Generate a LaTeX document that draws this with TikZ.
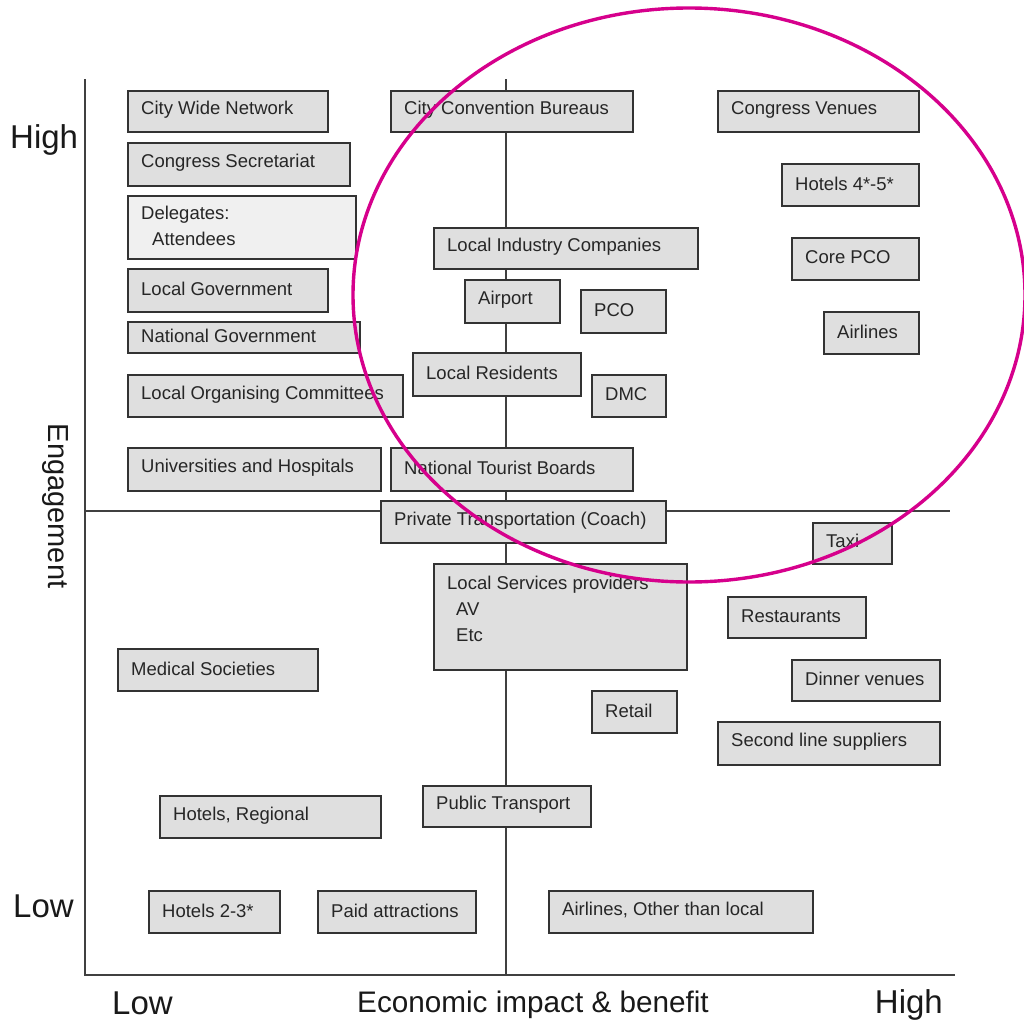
\documentclass[tikz,border=0pt]{standalone}
\usepackage{fontspec}
\setmainfont{Liberation Sans}
\definecolor{boxfill}{HTML}{DFDFDF}
\definecolor{boxline}{HTML}{333333}
\definecolor{axisline}{HTML}{404040}
\definecolor{magen}{HTML}{D6008C}
\tikzset{
  box/.style={draw=boxline, line width=1.8pt, fill=boxfill, rectangle, inner sep=0pt, anchor=north west},
  boxtext/.style={inner sep=0pt, align=left, anchor=west, font=\fontsize{18.5}{26}\selectfont, text=black!85},
  axisln/.style={draw=axisline, line width=1.4pt},
  biglab/.style={font=\fontsize{33}{36}\selectfont, text=black!90, inner sep=0pt},
}
\newcommand\bx[8][]{%
  \pgfmathsetmacro\bw{#5-#3}\pgfmathsetmacro\bh{#6-#4}%
  \node[box, minimum width=\bw pt, minimum height=\bh pt, #1] (#2) at (#3,#4) {};
  \node[boxtext, #7] (#2-t) at ([xshift=14pt, yshift=1.5pt]#2.west) {#8};}
\begin{document}
\begin{tikzpicture}[x=1pt,y=-1pt]
\useasboundingbox (0,0) rectangle (1024,1025);
\fill[white] (0,0) rectangle (1024,1025);
% axes
\coordinate (yt) at (85,79);
\coordinate (o) at (85,975);
\coordinate (xr) at (955,975);
\coordinate (mt) at (506,79);
\coordinate (mb) at (506,975);
\coordinate (ml) at (85,511);
\coordinate (mr) at (950,511);
\draw[axisln] (yt) -- (o) -- (xr);
\draw[axisln] (mt) -- (mb);
\draw[axisln] (ml) -- (mr);
% boxes
\bx{cwn}{127}{90}{327}{131}{}{City Wide Network}
\bx{cs}{127}{142}{349}{185}{}{Congress Secretariat}
\bx[fill=black!6]{del}{127}{195}{355}{258}{}{Delegates:\\\hspace*{11pt}Attendees}
\bx{lg}{127}{268}{327}{311}{}{Local Government}
\bx{ng}{127}{321}{359}{352}{}{National Government}
\bx{loc}{127}{374}{402}{416}{}{Local Organising Committees}
\bx{uh}{127}{447}{380}{490}{}{Universities and Hospitals}
\bx{ccb}{390}{90}{632}{131}{}{City Convention Bureaus}
\bx{cv}{717}{90}{918}{131}{}{Congress Venues}
\bx{h45}{781}{163}{918}{205}{}{Hotels 4*-5*}
\bx{lic}{433}{227}{697}{268}{}{Local Industry Companies}
\bx{cpco}{791}{237}{918}{279}{}{Core PCO}
\bx{air}{464}{279}{559}{322}{}{Airport}
\bx{pco}{580}{289}{665}{332}{}{PCO}
\bx{airl}{823}{311}{918}{353}{}{Airlines}
\bx{lr}{412}{352}{580}{395}{}{Local Residents}
\bx{dmc}{591}{374}{665}{416}{}{DMC}
\bx{ntb}{390}{447}{632}{490}{}{National Tourist Boards}
\bx{pt}{380}{500}{665}{542}{}{Private Transportation (Coach)}
\bx{taxi}{812}{522}{891}{563}{yshift=1pt}{Taxi}
\bx{lsp}{433}{563}{686}{669}{yshift=6.5pt}{Local Services providers\\\hspace*{9pt}AV\\\hspace*{9pt}Etc}
\bx{rest}{727}{596}{865}{637}{}{Restaurants}
\bx{med}{117}{648}{317}{690}{}{Medical Societies}
\bx{dv}{791}{659}{939}{700}{}{Dinner venues}
\bx{ret}{591}{690}{676}{732}{}{Retail}
\bx{sls}{717}{721}{939}{764}{}{Second line suppliers}
\bx{pub}{422}{785}{590}{826}{}{Public Transport}
\bx{hreg}{159}{795}{380}{837}{}{Hotels, Regional}
\bx{h23}{148}{890}{279}{932}{}{Hotels 2-3*}
\bx{paid}{317}{890}{475}{932}{}{Paid attractions}
\bx{aol}{548}{890}{812}{932}{}{Airlines, Other than local}
% labels
\node[biglab, anchor=west] (hi) at (10,140) {High};
\node[biglab, anchor=west] (lo) at (13,906) {Low};
\node[biglab, rotate=-90, font=\fontsize{29}{32}\selectfont] (eng) at (55,506) {Engagement};
\node[biglab, anchor=west] (xlo) at (112,1003) {Low};
\node[biglab, font=\fontsize{29.7}{32}\selectfont] (xlab) at (533,1005) {Economic impact \& benefit};
\node[biglab, anchor=east] (xhi) at (943,1005) {High};
% ellipse
\draw[magen, line width=3.4pt] (689,295) ellipse [x radius=336, y radius=287];
\end{tikzpicture}
\end{document}
